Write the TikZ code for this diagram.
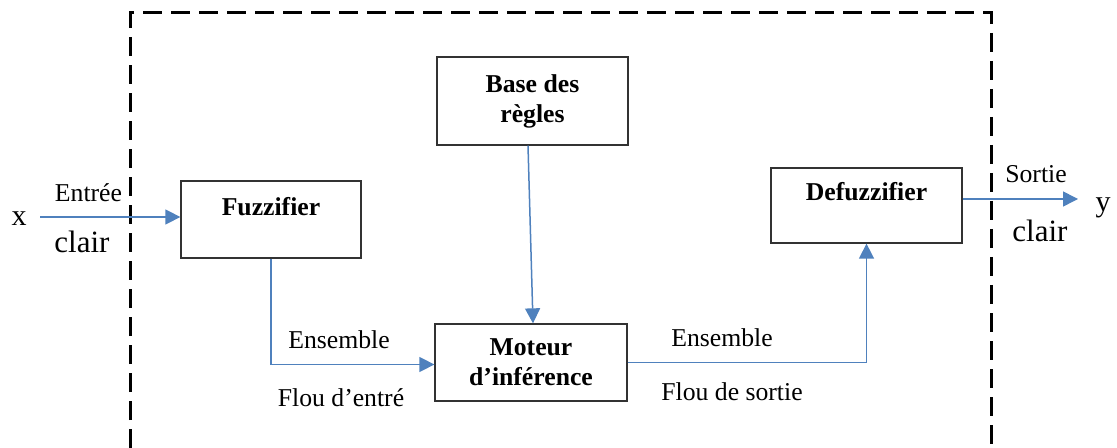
\documentclass[tikz,border=0pt]{standalone}
\usepackage{fontspec}
\setmainfont{Liberation Serif}
\usetikzlibrary{arrows.meta,calc}

\definecolor{flowblue}{RGB}{79,129,189}
\definecolor{boxedge}{RGB}{50,50,50}

\tikzset{
  blockbox/.style={draw=boxedge, line width=0.65pt, fill=white, inner sep=0pt,
    font=\fontsize{12.85}{15}\selectfont\bfseries, align=center},
  flow/.style={draw=flowblue, line width=0.75pt,
    -{Triangle[length=7.5pt,width=7.5pt]}},
  lbl/.style={font=\fontsize{12.85}{14.5}\selectfont, anchor=base, inner sep=0pt},
  biglbl/.style={font=\fontsize{15.5}{17}\selectfont, anchor=base, inner sep=0pt},
  frame/.style={draw=black, line width=1.5pt, dash pattern=on 9.5pt off 4.5pt}
}

\begin{document}
\begin{tikzpicture}[x=0.5pt,y=-0.5pt]
\useasboundingbox (0,0) rectangle (1117,448);

% system boundary (open at the bottom edge)
\draw[frame] (130,448) -- (130,13) -- (991,13) -- (991,448);

% blocks
\node[blockbox, minimum width=90pt, text height=17.5pt, text depth=21pt] (fuzz) at (271,219.5) {Fuzzifier};
\node[blockbox, minimum width=95.5pt, minimum height=44pt] (base) at (532.5,101) {Base des\\règles};
\node[blockbox, minimum width=95.5pt, text height=16.5pt, text depth=21pt] (defuzz) at (866.5,205.5) {Defuzzifier};
\node[blockbox, minimum width=96pt, minimum height=38.5pt] (moteur) at (531,362.5) {Moteur\\d’inférence};

% input and output ends
\coordinate (xin) at (40,217);
\coordinate (yout) at (1078,199);
\node[font=\fontsize{15}{17}\selectfont, anchor=base, inner sep=0pt] (xlab) at (19,226) {x};
\node[font=\fontsize{15}{17}\selectfont, anchor=base, inner sep=0pt] (ylab) at (1103,212) {y};

% connectors
\draw[flow] (xin) -- (xin -| fuzz.west);
\draw[flow] (fuzz.south) |- ([yshift=-1pt]moteur.west);
\draw[flow] ([xshift=-2.25pt]base.south) -- ([xshift=1pt]moteur.north);
\draw[flow] (moteur.east) -| (defuzz.south);
\draw[flow] (yout -| defuzz.east) -- (yout);

% labels
\node[lbl] (entree) at (88.5,202) {Entrée};
\node[biglbl] (clairin) at (82,253) {clair};
\node[lbl] (sortie) at (1036,183) {Sortie};
\node[biglbl] (clairout) at (1040,242) {clair};
\node[lbl] (ens1) at (339,348) {Ensemble};
\node[lbl] (flou1) at (341,406.5) {Flou d’entré};
\node[lbl] (ens2) at (722,346.5) {Ensemble};
\node[lbl] (flou2) at (732,400) {Flou de sortie};
\end{tikzpicture}
\end{document}
